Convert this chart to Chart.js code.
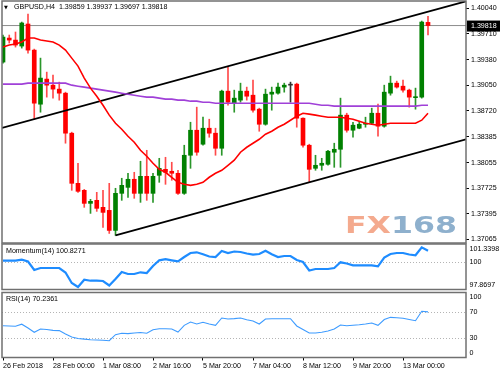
<!DOCTYPE html>
<html>
<head>
<meta charset="utf-8">
<title>GBPUSD,H4</title>
<script src="https://cdn.jsdelivr.net/npm/chart.js"></script>
<style>
  body { margin: 0; background: #fff; }
  #wrap { position: relative; width: 500px; height: 375px; }
  #wrap canvas { position: absolute; left: 0; top: 0; }
</style>
</head>
<body>
<div id="wrap">
  <canvas id="priceChart" width="500" height="375"></canvas>
  <canvas id="momChart" width="500" height="375"></canvas>
  <canvas id="rsiChart" width="500" height="375"></canvas>
</div>
<script>
// ---- data (H4 bars, index 0 = 26 Feb 2018 16:00) ----
const symbol = 'GBPUSD', period = 'H4';
const opens = [1.39348,1.39657,1.39631,1.39554,1.39838,1.39502,1.38806,1.39129,1.39051,1.39000,
  1.38948,1.38433,1.37788,1.37698,1.37530,1.37569,1.37479,1.37440,1.37182,1.37659,
  1.37736,1.37840,1.37659,1.37878,1.37659,1.37891,1.37968,1.37943,1.37917,1.37659,
  1.38149,1.38471,1.38291,1.38497,1.38433,1.38239,1.38974,1.38819,1.38858,1.38974,
  1.38922,1.38742,1.38548,1.38935,1.38948,1.39026,1.39051,1.39064,1.38626,1.38278,
  1.37981,1.38020,1.38033,1.38188,1.38226,1.38665,1.38471,1.38497,1.38548,1.38561,
  1.38690,1.38523,1.38948,1.39077,1.39038,1.38987,1.38890,1.38897,1.39859];
const highs = [1.39696,1.39696,1.39735,1.39863,1.39967,1.39515,1.39399,1.39219,1.39180,1.39090,
  1.38961,1.38446,1.38046,1.37710,1.37582,1.37672,1.37698,1.37788,1.37724,1.37853,
  1.37917,1.37930,1.38072,1.38213,1.37917,1.38110,1.38123,1.38059,1.37956,1.38278,
  1.38574,1.38768,1.38639,1.38613,1.38497,1.38987,1.39283,1.38987,1.39077,1.39026,
  1.39116,1.38755,1.39000,1.39026,1.39077,1.39077,1.39090,1.39077,1.38630,1.38291,
  1.38149,1.38110,1.38213,1.38304,1.38884,1.38690,1.38574,1.38587,1.38639,1.38755,
  1.38806,1.39051,1.39167,1.39103,1.39116,1.39000,1.39013,1.39876,1.39937];
const lows = [1.39335,1.39593,1.39541,1.39528,1.39464,1.38613,1.38703,1.38897,1.38884,1.38858,
  1.38304,1.37698,1.37672,1.37479,1.37401,1.37427,1.37221,1.37143,1.37118,1.37569,
  1.37608,1.37595,1.37543,1.37569,1.37543,1.37801,1.37775,1.37827,1.37646,1.37646,
  1.37981,1.38149,1.38278,1.38381,1.38149,1.38149,1.38793,1.38703,1.38832,1.38858,
  1.38703,1.38458,1.38536,1.38729,1.38935,1.38961,1.38832,1.38510,1.38252,1.37801,
  1.37956,1.37956,1.38020,1.37994,1.37994,1.38446,1.38381,1.38490,1.38510,1.38555,
  1.38394,1.38510,1.38922,1.39013,1.38961,1.38768,1.38742,1.38884,1.39697];
const closes = [1.39670,1.39631,1.39567,1.39851,1.39502,1.38819,1.39142,1.39051,1.39000,1.38948,
  1.38433,1.37788,1.37685,1.37530,1.37556,1.37466,1.37414,1.37182,1.37659,1.37762,
  1.37840,1.37659,1.37878,1.37659,1.37878,1.37981,1.37930,1.37917,1.37659,1.38149,
  1.38471,1.38188,1.38497,1.38433,1.38239,1.38974,1.38832,1.38884,1.38974,1.38909,
  1.38729,1.38548,1.38935,1.38961,1.39026,1.39051,1.39051,1.38626,1.38278,1.37968,
  1.38020,1.38046,1.38201,1.38226,1.38665,1.38471,1.38536,1.38548,1.38561,1.38690,
  1.38523,1.38961,1.39077,1.39026,1.38987,1.38897,1.38897,1.39863,1.39818];

// moving averages (red = fast, purple = slow)
const maFast = [1.39541,1.39567,1.39580,1.39606,1.39657,1.39657,1.39631,1.39619,1.39606,1.39567,
  1.39502,1.39399,1.39296,1.39142,1.39013,1.38909,1.38793,1.38665,1.38561,1.38484,
  1.38394,1.38317,1.38213,1.38136,1.38046,1.37968,1.37930,1.37866,1.37801,1.37775,
  1.37762,1.37775,1.37801,1.37866,1.37917,1.37956,1.38020,1.38085,1.38188,1.38252,
  1.38304,1.38355,1.38420,1.38458,1.38510,1.38548,1.38600,1.38652,1.38690,1.38678,
  1.38665,1.38652,1.38639,1.38639,1.38639,1.38626,1.38613,1.38587,1.38561,1.38548,
  1.38536,1.38548,1.38561,1.38561,1.38561,1.38561,1.38561,1.38600,1.38690];
const maSlow = [1.39064,1.39064,1.39064,1.39064,1.39077,1.39077,1.39077,1.39077,1.39077,1.39077,
  1.39077,1.39051,1.39038,1.39026,1.39013,1.39000,1.38987,1.38974,1.38961,1.38948,
  1.38935,1.38922,1.38909,1.38897,1.38897,1.38884,1.38871,1.38871,1.38858,1.38858,
  1.38845,1.38845,1.38832,1.38832,1.38819,1.38819,1.38819,1.38819,1.38819,1.38819,
  1.38819,1.38819,1.38819,1.38819,1.38819,1.38819,1.38819,1.38819,1.38819,1.38819,
  1.38806,1.38793,1.38793,1.38781,1.38781,1.38781,1.38781,1.38781,1.38781,1.38781,
  1.38781,1.38781,1.38781,1.38781,1.38781,1.38781,1.38781,1.38793,1.38793];

// channel lines: [bar index, price]
const upperChannel = [[-0.16, 1.38501], [74.08, 1.40130]];
const lowerChannel = [[18, 1.37118], [74.08, 1.38355]];

const momentum = [100.066,100.066,100.066,100.142,100.005,99.357,99.509,99.509,99.509,99.509,
  99.166,98.365,98.060,98.617,98.540,98.540,98.518,98.174,98.670,99.204,
  99.051,99.051,99.181,99.128,99.662,100.097,100.180,100.097,100.020,100.348,
  100.653,100.707,100.554,100.386,100.348,100.806,100.653,100.768,100.730,100.615,
  100.524,100.577,100.829,100.554,100.348,100.424,100.424,100.119,99.967,99.318,
  99.433,99.433,99.433,99.509,99.944,99.852,99.715,99.715,99.715,99.715,
  99.639,100.310,100.577,100.653,100.653,100.539,100.478,101.088,100.8271];
const rsi = [48.9,48.5,48.0,51.2,45.4,38.8,43.8,43.1,41.8,41.4,
  36.2,31.5,29.2,28.2,27.4,26.9,26.5,25.8,35.1,37.2,
  36.8,37.7,38.5,37.4,42.8,44.3,44.3,43.8,39.2,49.5,
  54.6,51.5,54.3,51.5,49.5,60.8,59.2,59.8,60.8,58.2,
  56.2,51.5,59.2,59.7,59.7,59.7,59.7,48.5,43.1,37.7,
  37.7,38.8,40.8,43.8,50.0,48.9,49.5,50.3,51.5,53.1,
  49.5,58.5,61.8,61.1,60.5,58.5,56.6,71.1,70.2361];

const priceTicks = [1.40040,1.39710,1.39380,1.39050,1.38720,1.38385,1.38055,1.37725,1.37395,1.37065];
const priceMin = 1.37020, priceMax = 1.40134;
const momentumTicks = [101.3398, 100, 97.8697];
const momentumLevels = [100];
const rsiTicks = [100, 70, 30, 0];
const rsiLevels = [70, 30];
const timeLabels = ['26 Feb 2018','28 Feb 00:00','1 Mar 08:00','2 Mar 16:00','5 Mar 20:00',
  '7 Mar 04:00','8 Mar 12:00','9 Mar 20:00','13 Mar 00:00'];
const labelIdx = [0, 8, 16, 24, 32, 40, 48, 56, 64];

const xMin = -0.16, xMax = 74.08;
const last = closes.length - 1;
const FONT = '"Liberation Sans", Arial, sans-serif';
const FSIZE = 7.1;
const fmt4 = v => Number.isInteger(v) ? String(v) : v.toFixed(4);

const bodyColor = i => closes[i] > opens[i] ? '#008000' : closes[i] < opens[i] ? '#ff0000' : '#333';
const wickColor = i => closes[i] > opens[i] ? '#2a962a' : closes[i] < opens[i] ? '#ff4a4a' : '#333';

function fixRightAxis(scale) {
  scale.width = 34;
  scale.paddingTop = 0;
  scale.paddingBottom = 0;
}

function frame(chart) {
  const {ctx, chartArea: a} = chart;
  ctx.save();
  ctx.strokeStyle = '#707070';
  ctx.lineWidth = 1.5;
  ctx.strokeRect(a.left, a.top, a.right - a.left, a.bottom - a.top);
  ctx.restore();
}

// ---- main price window ----
const priceDecor = {
  id: 'priceDecor',
  beforeDatasetsDraw(chart) {
    const {ctx, chartArea: a, scales: {y}} = chart;
    ctx.save();
    // FX168 watermark
    ctx.font = 'bold 23px "DejaVu Sans", sans-serif';
    ctx.textBaseline = 'alphabetic';
    const w = 112;
    const sx = w / ctx.measureText('FX168').width;
    ctx.translate(a.right - 9 - w, a.bottom - 10);
    ctx.scale(sx, 1);
    ctx.fillStyle = '#f4aa8e';
    ctx.fillText('FX', 0, 0);
    ctx.fillStyle = '#8eb0cd';
    ctx.fillText('168', ctx.measureText('FX').width, 0);
    ctx.restore();
    // bid line
    const yb = y.getPixelForValue(closes[last]);
    ctx.save();
    ctx.strokeStyle = '#8c8c8c';
    ctx.lineWidth = 1;
    ctx.beginPath();
    ctx.moveTo(a.left, yb);
    ctx.lineTo(a.right, yb);
    ctx.stroke();
    ctx.restore();
  },
  afterDraw(chart) {
    const {ctx, chartArea: a, scales: {y}} = chart;
    frame(chart);
    ctx.save();
    ctx.fillStyle = '#000';
    ctx.textBaseline = 'middle';
    ctx.font = '5px "DejaVu Sans", sans-serif';
    ctx.fillText('▼', 4, 7.5);
    ctx.font = FSIZE + 'px ' + FONT;
    const f5 = v => v.toFixed(5);
    ctx.fillText(`${symbol},${period}  ${f5(opens[last])} ${f5(highs[last])} ${f5(lows[last])} ${f5(closes[last])}`, 14, 7.5);
    // price box on the axis
    const yb = y.getPixelForValue(closes[last]);
    ctx.fillRect(a.right + 1, yb - 5, 500 - a.right - 1, 11);
    ctx.fillStyle = '#fff';
    ctx.fillText(closes[last].toFixed(5), a.right + 5, yb + 0.5);
    ctx.restore();
  }
};

const xs = closes.map((_, i) => i);

new Chart(document.getElementById('priceChart'), {
  type: 'bar',
  data: {
    datasets: [
      { type: 'line', data: maFast.map((v, i) => ({x: i, y: v})), borderColor: '#ff0000', borderWidth: 1.6, pointRadius: 0, tension: 0, order: 0 },
      { type: 'line', data: maSlow.map((v, i) => ({x: i, y: v})), borderColor: '#a040d8', borderWidth: 1.6, pointRadius: 0, tension: 0, order: 0 },
      { type: 'line', data: upperChannel.map(p => ({x: p[0], y: p[1]})), borderColor: '#000', borderWidth: 1.8, pointRadius: 0, order: 0 },
      { type: 'line', data: lowerChannel.map(p => ({x: p[0], y: p[1]})), borderColor: '#000', borderWidth: 1.8, pointRadius: 0, order: 0 },
      { data: xs.map(i => ({x: i, y: [opens[i], closes[i]]})), backgroundColor: c => bodyColor(c.dataIndex),
        barThickness: 4, grouped: false, minBarLength: 1, order: 1 },
      { data: xs.map(i => ({x: i, y: [lows[i], highs[i]]})), backgroundColor: c => wickColor(c.dataIndex),
        barThickness: 1, grouped: false, order: 2 }
    ]
  },
  options: {
    responsive: false, animation: false, events: [],
    layout: { padding: { left: 2, top: 1, right: 0, bottom: 132 } },
    plugins: { legend: { display: false }, tooltip: { enabled: false } },
    scales: {
      x: { type: 'linear', min: xMin, max: xMax, offset: false, display: false },
      y: {
        position: 'right', min: priceMin, max: priceMax,
        afterBuildTicks: s => { s.ticks = priceTicks.map(v => ({value: v})); },
        afterFit: fixRightAxis,
        ticks: { autoSkip: false, callback: v => v.toFixed(5), font: { family: FONT, size: FSIZE }, color: '#000', padding: 2 },
        grid: { drawOnChartArea: false, tickLength: 3, tickColor: '#000' },
        border: { display: false }
      }
    }
  },
  plugins: [priceDecor]
});

// ---- indicator windows ----
function panelPlugin(label, levels, axisTicks) {
  return {
    id: 'panel',
    beforeDatasetsDraw(chart) {
      const {ctx, chartArea: a, scales: {y}} = chart;
      ctx.save();
      ctx.strokeStyle = '#b4b4b4';
      ctx.lineWidth = 1;
      ctx.setLineDash([1, 2]);
      levels.forEach(v => {
        const py = Math.round(y.getPixelForValue(v)) + 0.5;
        ctx.beginPath();
        ctx.moveTo(a.left, py);
        ctx.lineTo(a.right, py);
        ctx.stroke();
      });
      ctx.restore();
    },
    afterDraw(chart) {
      const {ctx, chartArea: a, scales: {y}} = chart;
      frame(chart);
      ctx.save();
      ctx.fillStyle = '#000';
      ctx.font = FSIZE + 'px ' + FONT;
      ctx.textBaseline = 'middle';
      ctx.fillText(label, a.left + 4, a.top + 7);
      axisTicks.forEach(v => {
        const py = Math.min(Math.max(y.getPixelForValue(v), a.top + 5), a.bottom - 4.5);
        ctx.fillText(fmt4(v), a.right + 3.5, py);
      });
      ctx.restore();
    }
  };
}

new Chart(document.getElementById('momChart'), {
  type: 'line',
  data: { datasets: [{ data: momentum.map((v, i) => ({x: i, y: v})), borderColor: '#1e8cff', borderWidth: 2.2, pointRadius: 0, tension: 0 }] },
  options: {
    responsive: false, animation: false, events: [],
    layout: { padding: { left: 2, top: 244, right: 0, bottom: 85.5 } },
    plugins: { legend: { display: false }, tooltip: { enabled: false } },
    scales: {
      x: { type: 'linear', min: xMin, max: xMax, offset: false, display: false },
      y: { position: 'right', min: momentumTicks[2], max: momentumTicks[0], afterFit: fixRightAxis,
           ticks: { display: false }, grid: { display: false }, border: { display: false } }
    }
  },
  plugins: [panelPlugin('Momentum(14) ' + momentum[last].toFixed(4), momentumLevels, momentumTicks)]
});

new Chart(document.getElementById('rsiChart'), {
  type: 'line',
  data: { datasets: [{ data: rsi.map((v, i) => ({x: i, y: v})), borderColor: '#3d9bff', borderWidth: 1.1, pointRadius: 0, tension: 0 }] },
  options: {
    responsive: false, animation: false, events: [],
    layout: { padding: { left: 2, top: 292.5, right: 0, bottom: 0 } },
    plugins: { legend: { display: false }, tooltip: { enabled: false } },
    scales: {
      x: {
        type: 'linear', min: xMin, max: xMax, offset: false, position: 'bottom',
        afterBuildTicks: s => { s.ticks = labelIdx.map(v => ({value: v})); },
        afterFit: s => { s.height = 17.5; s.paddingLeft = 0; s.paddingRight = 0; },
        ticks: { autoSkip: false, maxRotation: 0, align: 'start', padding: 1, color: '#000',
                 font: { family: FONT, size: FSIZE }, callback: v => timeLabels[labelIdx.indexOf(v)] },
        grid: { drawOnChartArea: false, tickLength: 3, tickColor: '#000' },
        border: { display: false }
      },
      y: { position: 'right', min: 0, max: 100, afterFit: fixRightAxis,
           ticks: { display: false }, grid: { display: false }, border: { display: false } }
    }
  },
  plugins: [panelPlugin('RSI(14) ' + rsi[last].toFixed(4), rsiLevels, rsiTicks)]
});
</script>
</body>
</html>
